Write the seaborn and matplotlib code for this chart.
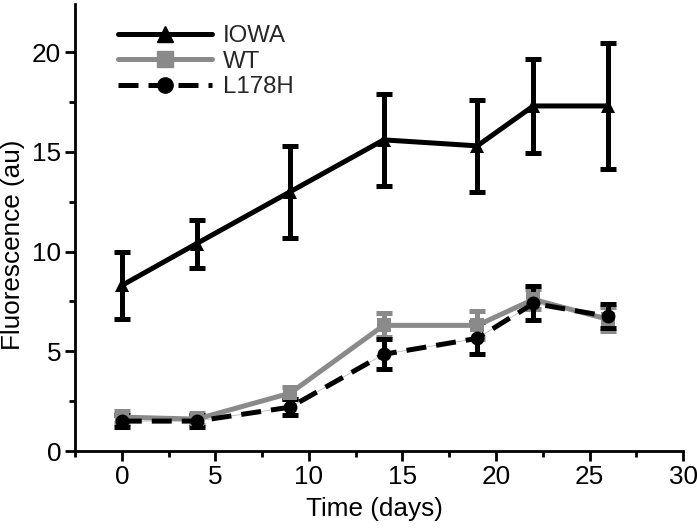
import matplotlib
matplotlib.use("Agg")
import matplotlib.pyplot as plt
import seaborn as sns
import pandas as pd
import numpy as np
from matplotlib.lines import Line2D

days = [0, 4, 9, 14, 19, 22, 26]
iowa = [8.3, 10.4, 13.0, 15.6, 15.3, 17.3, 17.3]
iowa_err = [1.7, 1.2, 2.3, 2.3, 2.3, 2.35, 3.15]
wt = [1.7, 1.6, 2.9, 6.3, 6.3, 7.6, 6.6]
wt_err = [0.3, 0.3, 0.3, 0.6, 0.7, 0.5, 0.6]
l178h = [1.5, 1.5, 2.2, 4.85, 5.65, 7.4, 6.75]
l178h_err = [0.3, 0.3, 0.4, 0.75, 0.8, 0.85, 0.6]
series_names = ["IOWA", "WT", "L178H"]
x_ticks = [0, 5, 10, 15, 20, 25, 30]
y_ticks = [0, 5, 10, 15, 20]

sns.set_theme(style="ticks")
plt.rcParams['font.family'] = ['Liberation Sans', 'DejaVu Sans']

df = pd.DataFrame({
    "day": days * 3,
    "value": iowa + wt + l178h,
    "err": iowa_err + wt_err + l178h_err,
    "series": sum([[n] * len(days) for n in series_names], []),
})

fig = plt.figure(figsize=(6.97, 5.30), dpi=100)
ax = fig.add_axes([0.1076, 0.149, 0.8724, 0.843])

colors = {"IOWA": "black", "WT": "#8a8a8a", "L178H": "black"}
markers = {"IOWA": "^", "WT": "s", "L178H": "o"}
order = ["WT", "L178H", "IOWA"]
LW = 3.6
DASH = (4, 2)

for name in order:
    sub = df[df.series == name]
    ax.errorbar(sub.day, sub.value, yerr=sub.err, fmt="none",
                ecolor=colors[name], elinewidth=LW, capsize=5.5, capthick=LW, zorder=2)

# thin connecting line under dashed series
sub = df[df.series == "L178H"]
ax.plot(sub.day, sub.value, color="#bbbbbb", lw=0.6, zorder=2.5)

sns.lineplot(data=df, x="day", y="value", hue="series", style="series",
             hue_order=series_names, style_order=series_names,
             palette=colors, markers=markers,
             dashes={"IOWA": "", "WT": "", "L178H": DASH},
             linewidth=LW, markersize=10, markeredgewidth=0,
             ax=ax, legend=False, zorder=3)

handles = []
for n in series_names:
    h = Line2D([], [], color=colors[n], marker=markers[n], markersize=11, lw=LW)
    if n == "L178H":
        h.set_dashes(DASH)
    handles.append(h)
ax.legend(handles, series_names, loc="upper left", bbox_to_anchor=(0.0707, 0.953),
          frameon=False, fontsize=17.3, handlelength=3.9, handletextpad=0.45,
          labelspacing=0.15, borderaxespad=0, borderpad=0)

ax.set_xlim(-2.5, 30)
ax.set_ylim(0, 22.4)
ax.set_xticks(x_ticks)
ax.set_yticks(y_ticks)
ax.set_xticks(np.arange(-2.5, 30.1, 2.5), minor=True)
ax.set_yticks(np.arange(0, 22.41, 2.5), minor=True)
ax.tick_params(which="major", length=7, width=2, labelsize=18.8, pad=3, color="black", labelcolor="black")
ax.tick_params(which="minor", length=4, width=2, color="black")
for s in ["top", "right"]:
    ax.spines[s].set_visible(False)
for s in ["left", "bottom"]:
    ax.spines[s].set_linewidth(2)
    ax.spines[s].set_color("black")
ax.set_xlabel("Time (days)", fontsize=18.8, color="black")
ax.set_ylabel("Fluorescence (au)", fontsize=18.8, color="black")
ax.xaxis.set_label_coords(0.492, -0.103)
ax.yaxis.set_label_coords(-0.082, 0.461)

fig.savefig("out.png", dpi=100)
